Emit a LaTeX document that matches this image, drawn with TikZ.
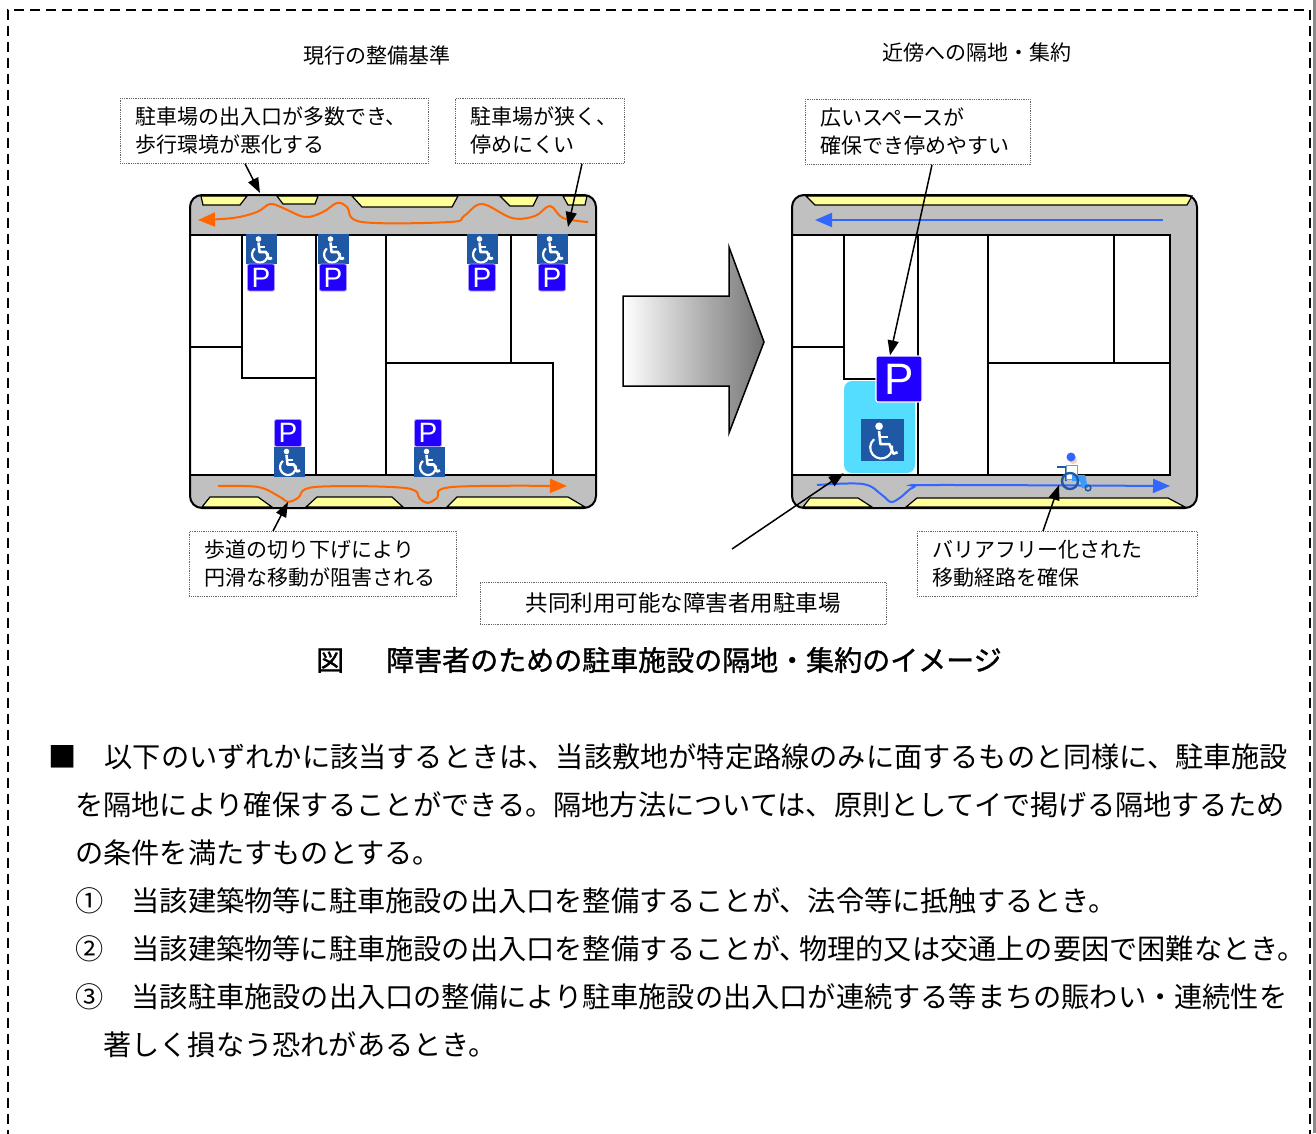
\documentclass[tikz,border=0pt]{standalone}
\usepackage{fontspec}
\setmainfont{Noto Sans CJK JP}
\newfontfamily\signfont{Liberation Sans}
\newfontfamily\captionfont[FakeBold=1.2]{Noto Sans CJK JP}
\usetikzlibrary{arrows.meta,calc,positioning}

\definecolor{roadgray}{RGB}{192,192,192}
\definecolor{walkyellow}{RGB}{255,255,153}
\definecolor{flowred}{RGB}{255,102,0}
\definecolor{flowblue}{RGB}{51,102,255}
\definecolor{isablue}{RGB}{31,88,165}
\definecolor{pblue}{RGB}{34,0,255}
\definecolor{lotcyan}{RGB}{85,221,255}
\definecolor{skin}{RGB}{250,205,180}

\newcommand{\labelsize}{\fontsize{21}{28}\selectfont}
\newcommand{\bodysize}{\fontsize{28.2}{48}\selectfont}

\tikzset{
  labelbox/.style={draw=black!60, densely dotted, line width=0.8pt, align=left,
    anchor=north west, inner xsep=15pt, inner ysep=0pt, minimum height=65pt, font=\labelsize},
  pointer/.style={-{Triangle[length=15pt,width=11pt]}, line width=1.5pt},
  flow/.style={-{Triangle[length=17pt,width=14pt]}, line width=2pt},
  lot/.style={line width=1.6pt},
  walk/.style={fill=walkyellow, draw=black, line width=1.2pt},
  psign/.style={fill=pblue, draw=pblue!40!white, line width=0.8pt, rounded corners=2pt,
    text=white, inner sep=0pt, minimum size=27pt, font=\signfont\fontsize{28}{28}\selectfont},
  bodyline/.style={anchor=west, inner sep=0pt, font=\bodysize},
  isasign/.pic={
    \fill[isablue] (-15.5,-15) rectangle (15.5,15);
    \fill[white] (-2.5,-10) circle (2.8);
    \draw[white, line width=2.6pt, line join=round] (-2.5,-6.5) -- (-1.5,3) -- (5,3) -- (8,10) -- (11,9);
    \draw[white, line width=2pt] (-2,-2) -- (4,-2);
    \draw[white, line width=2.2pt] (-6.1,-0.6) arc[start angle=230, end angle=-10, radius=8];
  }
}

\begin{document}
\begin{tikzpicture}[x=1pt,y=-1pt]
  \useasboundingbox (0,0) rectangle (1316,1133);
  \fill[black!45] (1313,0) rectangle (1316,1133);
  \draw[line width=1.8pt, dash pattern=on 10pt off 6pt] (8,1140) -- (8,10) -- (1310,10) -- (1310,1140);

  % 見出し
  \node[font=\labelsize] (nowtitle) at (377,56) {現行の整備基準};
  \node[font=\labelsize] (newtitle) at (977,53) {近傍への隔地・集約};

  % 現行：道路と歩道
  \fill[roadgray, rounded corners=12pt] (190,195) rectangle (596,508);
  \draw[walk] (201,196) -- (247,196) -- (240,205) -- (203,205) -- cycle;
  \draw[walk] (277,196) -- (318,196) -- (315,204) -- (283,204) -- cycle;
  \draw[walk] (352,196) -- (458,196) -- (452,207) -- (362,207) -- cycle;
  \draw[walk] (500,196) -- (538,196) -- (533,206) -- (510,206) -- cycle;
  \draw[walk] (563,196) -- (587,196) -- (585,205) -- (568,205) -- cycle;
  \draw[walk] (202,507) -- (210,497) -- (258,497) -- (272,507) -- cycle;
  \draw[walk] (306,507) -- (317,497) -- (392,497) -- (403,507) -- cycle;
  \draw[walk] (447,507) -- (457,497) -- (568,497) -- (585,507) -- cycle;

  % 現行：敷地
  \draw[lot, fill=white] (190,235) rectangle (596,475);
  \draw[lot] (242,235) -- (242,378) -- (316,378);
  \draw[lot] (190,347) -- (242,347);
  \draw[lot] (316,235) -- (316,475);
  \draw[lot] (386,235) -- (386,475);
  \draw[lot] (511,235) -- (511,363);
  \draw[lot] (386,363) -- (553,363) -- (553,475);
  \draw[line width=2pt, rounded corners=12pt] (190,195) rectangle (596,508);

  % 現行：障害者用駐車区画
  \foreach \x in {261,333,482,552} {
    \pic at (\x,249) {isasign};
    \node[psign] (ptop\x) at (\x,277.5) {P};
  }
  \foreach \x in {288,428} {
    \node[psign] (pbot\x) at (\x,433) {P};
    \pic at (\x+1,461.5) {isasign};
  }

  % 現行：歩行者の動線
  \draw[flow, flowred] plot[smooth, tension=0.6] coordinates {(588,222) (563,218) (550,206) (535,216)
    (512,218) (482,204) (464,216) (450,222) (362,222) (347,207) (337,203) (323,212) (305,217)
    (283,208) (270,204) (257,212) (233,218) (198,220)};
  \draw[flow, flowred] plot[smooth, tension=0.6] coordinates {(218,486) (258,487) (280,497)
    (288,502) (298,498) (315,487) (405,488) (420,499) (428,503) (437,498) (452,487) (567,486)};

  % 矢印
  \draw[line width=1.5pt, left color=white, right color=black!55]
    (623,296) -- (729,296) -- (729,247) -- (764,342) -- (729,433) -- (729,386) -- (623,386) -- cycle;

  % 集約後：道路と歩道
  \fill[roadgray, rounded corners=12pt] (792,195) rectangle (1197,508);
  \draw[walk] (806,196) -- (1192,196) -- (1187,205) -- (815,205) -- cycle;
  \draw[walk] (803,507) -- (810,498) -- (858,498) -- (872,507) -- cycle;
  \draw[walk] (906,507) -- (917,498) -- (1168,498) -- (1185,507) -- cycle;

  % 集約後：敷地
  \draw[lot, fill=white] (792,235) rectangle (1170,475);
  \draw[lot] (844,235) -- (844,379) -- (918,379);
  \draw[lot] (792,347) -- (844,347);
  \draw[lot] (918,235) -- (918,475);
  \draw[lot] (988,235) -- (988,475);
  \draw[lot] (1114,235) -- (1114,363);
  \draw[lot] (988,363) -- (1170,363);
  \draw[line width=2pt, rounded corners=12pt] (792,195) rectangle (1197,508);

  % 集約後：共同利用の駐車区画
  \node[fill=lotcyan, rounded corners=8pt, minimum width=71pt, minimum height=92pt, inner sep=0pt]
    (cyanlot) at (879.5,427) {};
  \pic[scale=1.37] at (882.5,440) {isasign};
  \node[psign, minimum size=46pt, draw=white, line width=1.2pt, font=\signfont\fontsize{44}{44}\selectfont]
    (bigP) at (899,379) {P};

  % 集約後：動線
  \draw[flow, flowblue] (1163,220) -- (815,220);
  \draw[flow, flowblue] plot[smooth, tension=0.6] coordinates {(817,485) (863,484) (882,495)
    (891,502) (901,497) (914,487) (935,485) (1170,486)};

  % 車いす利用者
  \begin{scope}[shift={(1057,451)}]
    \draw[isablue, line width=1.8pt] (0,16) -- (9,16) -- (9,30);
    \fill[white, draw=isablue!60, line width=0.8pt] (9,14) rectangle (20,28);
    \fill[lotcyan!70!blue] (15,24) -- (28,24) -- (31,37) -- (25,37) -- (23,30) -- (15,30) -- cycle;
    \fill[skin] (16,9) circle (4);
    \fill[flowblue] (14,6) circle (4.5);
    \draw[isablue, line width=2.4pt] (13,30) circle (8);
    \draw[isablue, line width=1.5pt] (31,37) circle (2.8);
    \coordinate (rider) at (2,34);
  \end{scope}

  % 説明
  \node[labelbox, text width=278pt] (crowd) at (120,98) {駐車場の出入口が多数でき、\\歩行環境が悪化する};
  \node[labelbox, text width=139pt] (narrow) at (455,98) {駐車場が狭く、\\停めにくい};
  \node[labelbox, text width=195pt] (roomy) at (805,99) {広いスペースが\\確保でき停めやすい};
  \node[labelbox, text width=237pt] (curb) at (189,531) {歩道の切り下げにより\\円滑な移動が阻害される};
  \node[labelbox, text width=250pt] (barrier) at (917,531) {バリアフリー化された\\移動経路を確保};
  \node[labelbox, align=center, minimum width=406pt, minimum height=42pt,
    font=\fontsize{22.5}{28}\selectfont] (shared) at (480,582) {共同利用可能な障害者用駐車場};

  \coordinate (gapA) at (260,193);
  \coordinate (gapB) at (568,227);
  \coordinate (dip) at (288,502);
  \coordinate (sharedtail) at (732,549);

  \draw[pointer] ([xshift=125pt]crowd.south west) -- (gapA);
  \draw[pointer] ([xshift=127pt]narrow.south west) -- (gapB);
  \draw[pointer] ([xshift=127pt]roomy.south west) -- ([xshift=-9pt]bigP.north);
  \draw[pointer] ([xshift=84pt]curb.north west) -- (dip);
  \draw[pointer] (sharedtail) -- (cyanlot.south west);
  \draw[pointer] ([xshift=126pt]barrier.north west) -- (rider);

  % 図題
  \node[anchor=west, inner sep=0pt, font=\captionfont\fontsize{28}{28}\selectfont] (caption) at (316,660)
    {図\hspace{1.5em}障害者のための駐車施設の隔地・集約のイメージ};

  % 本文
  \node[bodyline] (rule1) at (48,757) {■　以下のいずれかに該当するときは、当該敷地が特定路線のみに面するものと同様に、駐車施設};
  \node[bodyline] (rule2) at (75,805) {を隔地により確保することができる。隔地方法については、原則としてイで掲げる隔地するため};
  \node[bodyline] (rule3) at (75,853) {の条件を満たすものとする。};
  \node[bodyline] (case1) at (75,901) {①　当該建築物等に駐車施設の出入口を整備することが、法令等に抵触するとき。};
  \node[bodyline] (case2) at (75,949) {②　当該建築物等に駐車施設の出入口を整備することが、\kern-0.3em 物理的又は交通上の要因で困難なとき。};
  \node[bodyline] (case3) at (75,997) {③　当該駐車施設の出入口の整備により駐車施設の出入口が連続する等まちの賑わい・連続性を};
  \node[bodyline] (case3b) at (103,1045) {著しく損なう恐れがあるとき。};
\end{tikzpicture}
\end{document}
